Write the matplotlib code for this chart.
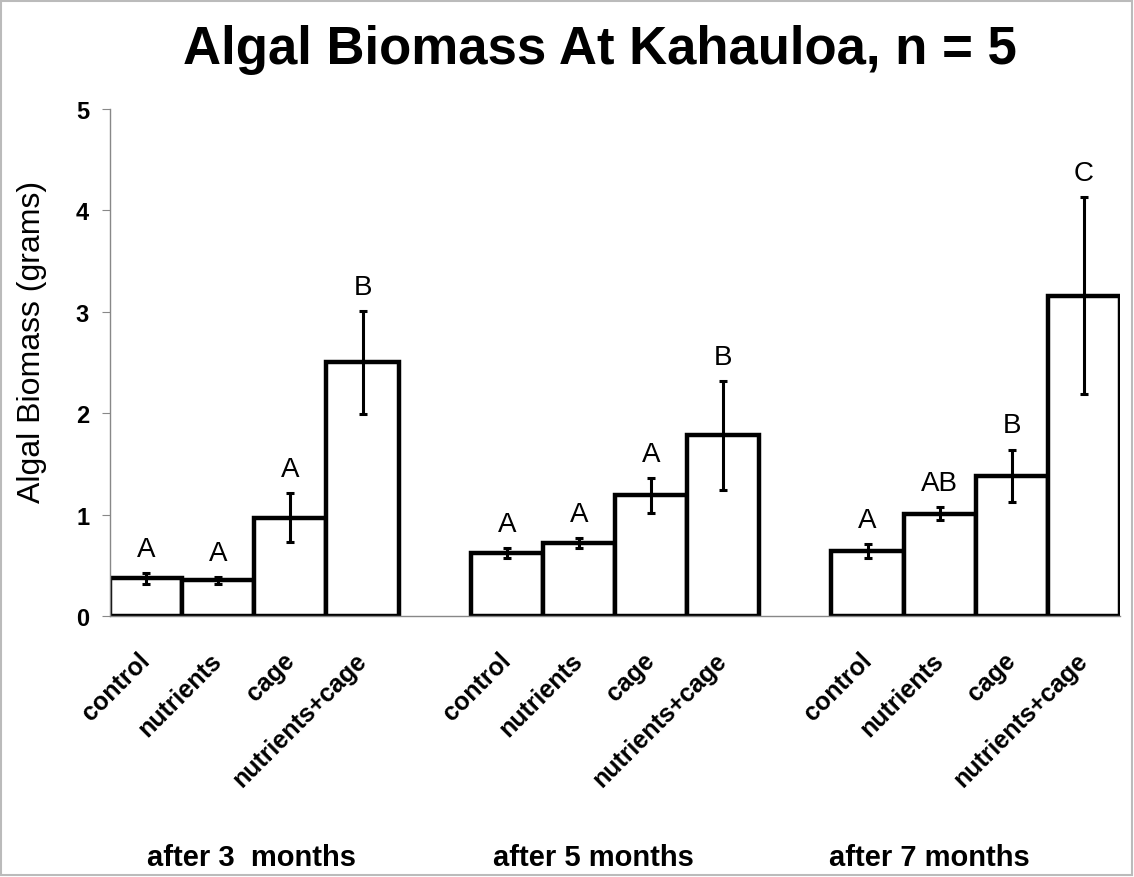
#!/usr/bin/env python3
"""Algal biomass at Kahauloa - grouped bar chart with error bars and letters"""

import matplotlib
matplotlib.use('Agg')
import matplotlib.pyplot as plt
import numpy as np

plt.rcParams['font.family'] = ['Liberation Sans', 'DejaVu Sans']

# Data
treatments = ['control', 'nutrients', 'cage', 'nutrients+cage']
periods = ['after 3  months', 'after 5 months', 'after 7 months']
biomass = [
    [0.37, 0.35, 0.97, 2.50],
    [0.62, 0.72, 1.19, 1.78],
    [0.64, 1.01, 1.38, 3.16],
]
errors = [
    [0.05, 0.03, 0.24, 0.51],
    [0.05, 0.05, 0.17, 0.54],
    [0.07, 0.06, 0.26, 0.97],
]
letters = [
    ['A', 'A', 'A', 'B'],
    ['A', 'A', 'A', 'B'],
    ['A', 'AB', 'B', 'C'],
]
y_ticks = [0, 1, 2, 3, 4, 5]

# Figure
fig = plt.figure(figsize=(11.34, 8.78), dpi=100)
ax = fig.add_axes([0.097, 0.2973, 0.8907, 0.5774])

n_t = len(treatments)
xs, heights, errs, labs, ticklabels = [], [], [], [], []
for g in range(len(periods)):
    for t in range(n_t):
        xs.append(g * (n_t + 1) + t)
        heights.append(biomass[g][t])
        errs.append(errors[g][t])
        labs.append(letters[g][t])
        ticklabels.append(treatments[t])

ax.bar(xs, heights, width=1.0, color='white', edgecolor='black',
       linewidth=3.2, zorder=2)
ax.errorbar(xs, heights, yerr=errs, fmt='none', ecolor='black',
            elinewidth=2.2, capsize=3, capthick=2.2, zorder=3)

# Significance letters above error bars
for x, h, e, lab in zip(xs, heights, errs, labs):
    ax.text(x, h + e + 0.17, lab, ha='center', va='baseline',
            fontsize=20)

ax.set_xlim(-0.5, xs[-1] + 0.5)
ax.set_ylim(0, 5)
ax.set_yticks(y_ticks)
ax.set_yticklabels([str(v) for v in y_ticks], fontsize=17, fontweight='bold')
ax.set_xticks(xs)
ax.set_xticklabels(ticklabels, rotation=45, ha='right', va='center',
                   rotation_mode='anchor', fontsize=18, fontweight='bold')
ax.tick_params(axis='x', length=0, pad=29)
ax.tick_params(axis='y', length=6, color='#888888', direction='out', pad=9)

for side in ['top', 'right']:
    ax.spines[side].set_visible(False)
ax.spines['left'].set_color('#888888')
ax.spines['bottom'].set_color('#888888')
ax.spines['left'].set_linewidth(1)
ax.spines['bottom'].set_linewidth(1)

ax.set_ylabel('Algal Biomass (grams)', fontsize=23)
ax.yaxis.set_label_coords(-0.062, 0.542)

# Period labels under each group
group_x = [1.46, 6.2, 10.86]
for gx, period in zip(group_x, periods):
    ax.text(gx, -0.475, period, transform=ax.get_xaxis_transform(),
            ha='center', va='center', fontsize=21, fontweight='bold')

fig.text(0.529, 0.943, 'Algal Biomass At Kahauloa, n = 5', ha='center',
         va='center', fontsize=38, fontweight='bold')

# Light frame around the whole chart
fig.patches.append(plt.Rectangle((0.001, 0.002), 0.997, 0.996,
                                 transform=fig.transFigure, fill=False,
                                 edgecolor='#bbbbbb', linewidth=1.5))

plt.savefig('out.png', dpi=100, facecolor='white')
plt.close()
